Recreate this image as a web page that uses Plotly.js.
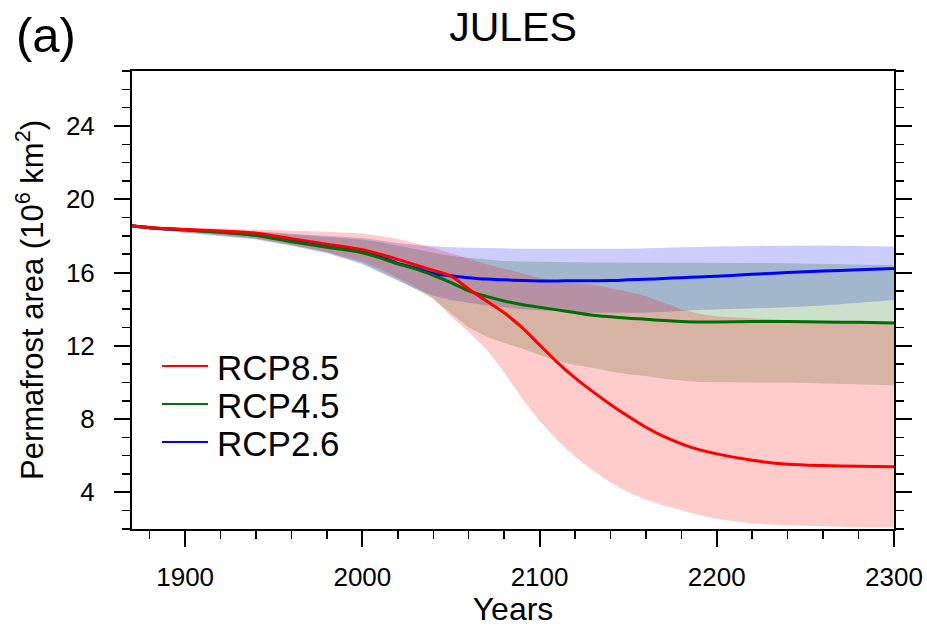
<!DOCTYPE html>
<html>
<head>
<meta charset="utf-8">
<script src="https://cdn.plot.ly/plotly-3.0.1.min.js"></script>
<style>html,body{margin:0;padding:0;background:#fff;}</style>
</head>
<body>
<div id="chart" style="width:927px;height:627px;"></div>
<script>
const years = [1870,1880,1900,1920,1940,1960,1980,2000,2010,2020,2030,2040,2050,2060,2070,2080,2090,2100,2110,2120,2130,2140,2150,2160,2170,2180,2190,2200,2220,2240,2260,2280,2300];

const rcp85 = [18.55,18.45,18.35,18.27,18.15,17.85,17.55,17.25,17.0,16.72,16.42,16.12,15.8,15.1,14.45,13.8,13.0,12.05,11.1,10.25,9.5,8.8,8.15,7.55,7.05,6.65,6.33,6.1,5.75,5.53,5.46,5.43,5.4];
const rcp45 = [18.55,18.45,18.33,18.2,18.02,17.68,17.38,17.08,16.8,16.47,16.2,15.85,15.45,15.0,14.7,14.45,14.25,14.1,13.96,13.82,13.67,13.58,13.5,13.45,13.38,13.33,13.3,13.3,13.32,13.33,13.3,13.28,13.25];
const rcp26 = [18.55,18.45,18.33,18.22,18.05,17.72,17.42,17.12,16.85,16.5,16.25,15.95,15.82,15.72,15.64,15.6,15.56,15.54,15.54,15.55,15.55,15.56,15.6,15.63,15.67,15.72,15.76,15.8,15.9,16.0,16.08,16.15,16.22];

const rcp85Upper = [18.62,18.55,18.45,18.4,18.35,18.3,18.22,18.13,18.0,17.85,17.6,17.35,17.05,16.75,16.45,16.2,15.95,15.7,15.5,15.4,15.35,15.15,14.95,14.7,14.35,14.0,13.75,13.6,13.5,13.4,13.35,13.25,13.2];
const rcp85Lower = [18.45,18.35,18.2,18.05,17.85,17.5,17.1,16.6,16.2,15.7,15.2,14.6,13.6,12.75,11.8,10.55,9.15,7.9,6.85,5.95,5.2,4.55,4.0,3.6,3.28,3.0,2.76,2.55,2.3,2.2,2.15,2.1,2.1];
const rcp45Upper = [18.6,18.5,18.4,18.32,18.22,18.08,17.95,17.8,17.65,17.48,17.28,17.08,16.9,16.8,16.7,16.63,16.6,16.58,16.57,16.56,16.55,16.55,16.55,16.55,16.55,16.55,16.55,16.55,16.52,16.5,16.47,16.43,16.4];
const rcp45Lower = [18.45,18.37,18.2,18.02,17.85,17.5,17.1,16.5,16.05,15.6,15.1,14.55,13.8,13.0,12.5,12.15,11.85,11.5,11.15,10.95,10.8,10.6,10.45,10.35,10.2,10.1,10.03,10.0,10.0,10.0,9.95,9.9,9.85];
const rcp26Upper = [18.6,18.5,18.4,18.33,18.25,18.12,18.0,17.88,17.75,17.6,17.5,17.42,17.38,17.35,17.35,17.32,17.3,17.3,17.3,17.28,17.27,17.28,17.3,17.32,17.35,17.38,17.4,17.42,17.45,17.48,17.48,17.45,17.42];
const rcp26Lower = [18.45,18.35,18.15,17.98,17.8,17.45,17.05,16.45,16.0,15.55,15.1,14.75,14.5,14.35,14.2,14.1,14.0,13.95,13.9,13.85,13.8,13.8,13.8,13.8,13.85,13.9,13.95,14.0,14.05,14.1,14.2,14.35,14.5];

const seriesNames = ['RCP8.5','RCP4.5','RCP2.6'];
const xTickVals = [1900,2000,2100,2200,2300];
const yTickVals = [4,8,12,16,20,24];

const FONT = '"Liberation Sans", Arial, Helvetica, sans-serif';

function band(upper, lower, color) {
  return {
    x: years.concat(years.slice().reverse()),
    y: upper.concat(lower.slice().reverse()),
    type: 'scatter', mode: 'lines', fill: 'toself',
    fillcolor: color, line: {width: 0, color: color},
    hoverinfo: 'skip', showlegend: false
  };
}
function line(vals, name, color, rank) {
  return {
    x: years, y: vals, type: 'scatter', mode: 'lines', name: name,
    line: {color: color, width: 3, shape: 'spline', smoothing: 0.8}, legendrank: rank
  };
}

const data = [
  band(rcp26Upper, rcp26Lower, 'rgba(0,0,255,0.2)'),
  band(rcp45Upper, rcp45Lower, 'rgba(0,100,0,0.2)'),
  band(rcp85Upper, rcp85Lower, 'rgba(255,0,0,0.2)'),
  line(rcp26, seriesNames[2], 'rgb(0,0,255)', 3),
  line(rcp45, seriesNames[1], 'rgb(0,110,0)', 2),
  line(rcp85, seriesNames[0], 'rgb(255,0,0)', 1)
];

const layout = {
  width: 927, height: 627,
  margin: {l: 132, r: 33, t: 71, b: 98},
  paper_bgcolor: '#fff', plot_bgcolor: '#fff',
  font: {family: FONT, color: '#000'},
  title: {text: 'JULES', font: {size: 41, family: FONT, color: '#000'}, xref: 'paper', x: 0.5, xanchor: 'center', yref: 'container', y: 0.958, yanchor: 'middle'},
  showlegend: true,
  legend: {x: 0.0328, y: 0.42, xanchor: 'left', yanchor: 'top', itemwidth: 50, bgcolor: 'rgba(0,0,0,0)', font: {size: 35, family: FONT, color: '#000'}},
  xaxis: {
    range: [1870, 2300], tickmode: 'array', tickvals: xTickVals,
    ticks: 'outside', ticklen: 16, tickwidth: 2, tickcolor: '#000',
    minor: {dtick: 20, tick0: 1880, ticks: 'outside', ticklen: 8, tickwidth: 1.5, tickcolor: '#000', showgrid: false},
    showline: true, linewidth: 2, linecolor: '#000', mirror: true,
    showgrid: false, zeroline: false,
    tickfont: {size: 26, family: FONT, color: '#000'}, ticklabelstandoff: 8,
    title: {text: 'Years', font: {size: 32, family: FONT, color: '#000'}, standoff: 8}
  },
  yaxis: {
    range: [2, 27], tickmode: 'array', tickvals: yTickVals,
    ticks: 'outside', ticklen: 16, tickwidth: 2, tickcolor: '#000',
    minor: {dtick: 1, tick0: 0, ticks: 'outside', ticklen: 8, tickwidth: 1.5, tickcolor: '#000', showgrid: false},
    showline: true, linewidth: 2, linecolor: '#000', mirror: 'ticks',
    showgrid: false, zeroline: false,
    tickfont: {size: 26, family: FONT, color: '#000'}, ticklabelstandoff: 14,
    title: {text: 'Permafrost area (10<sup>6</sup> km<sup>2</sup>)', font: {size: 31, family: FONT, color: '#000'}, standoff: 13}
  },
  annotations: [{
    text: '(a)', xref: 'paper', yref: 'paper', x: -0.155, y: 1.078, xanchor: 'left', yanchor: 'middle',
    showarrow: false, font: {size: 49, family: FONT, color: '#000'}
  }]
};

Plotly.newPlot('chart', data, layout, {displayModeBar: false, staticPlot: true}).then(function (gd) {
  // cosmetic: longer, thinner legend sample lines and tighter row spacing as in the reference
  gd.querySelectorAll('.legend .legendlines path').forEach(function (p) {
    p.setAttribute('d', 'M5,0h46');
    p.style.strokeWidth = '2px';
  });
  const items = gd.querySelectorAll('.legend .traces');
  let y0 = null;
  items.forEach(function (g, i) {
    const m = /translate\(([-\d.]+),\s*([-\d.]+)\)/.exec(g.getAttribute('transform') || '');
    if (!m) return;
    if (y0 === null) y0 = parseFloat(m[2]);
    g.setAttribute('transform', 'translate(' + m[1] + ',' + (y0 + i * 38) + ')');
  });
});
</script>
</body>
</html>
